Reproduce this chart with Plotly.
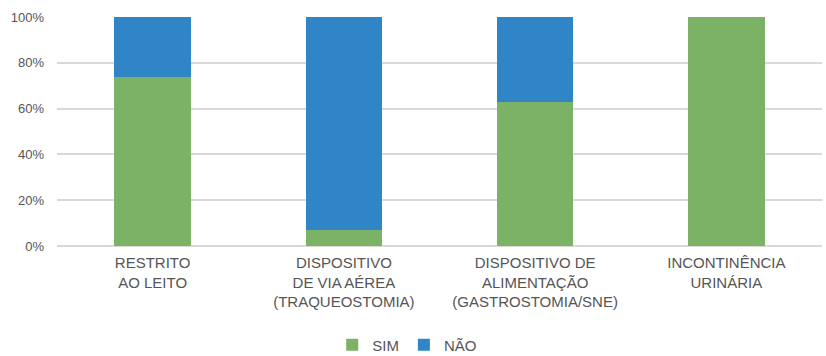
import plotly.graph_objects as go

categories = ["RESTRITO<br>AO LEITO", "DISPOSITIVO<br>DE VIA AÉREA<br>(TRAQUEOSTOMIA)",
              "DISPOSITIVO DE<br>ALIMENTAÇÃO<br>(GASTROSTOMIA/SNE)", "INCONTINÊNCIA<br>URINÁRIA"]
sim = [74, 7, 63, 100]
nao = [26, 93, 37, 0]
tick_vals = [0, 20, 40, 60, 80, 100]
tick_text = ["0%", "20%", "40%", "60%", "80%", "100%"]

fig = go.Figure()
fig.add_trace(go.Bar(x=categories, y=sim, name="SIM", marker_color="#7BB266", marker_line_width=0))
fig.add_trace(go.Bar(x=categories, y=nao, name="NÃO", marker_color="#3085C6", marker_line_width=0))

fig.update_layout(
    barmode="stack",
    bargap=0.6,
    width=826, height=356,
    margin=dict(l=57, r=4, t=17, b=110, autoexpand=False),
    paper_bgcolor="white", plot_bgcolor="white",
    font=dict(family="Liberation Sans, Arial, sans-serif", color="#555555", size=13),
    legend=dict(orientation="h", xref="container", x=0.493, xanchor="center", y=-0.36, yanchor="top",
                font=dict(size=15), itemwidth=30, traceorder="normal"),
    xaxis=dict(showgrid=False, showline=False, ticks="", tickfont=dict(size=15), tickangle=0,
               ticklabelstandoff=6, automargin=False),
    yaxis=dict(range=[0, 100], tickvals=tick_vals, ticktext=tick_text, showgrid=True,
               gridcolor="#D9D9D9", gridwidth=2, zeroline=True, zerolinecolor="#D9D9D9",
               zerolinewidth=2, ticks="", tickfont=dict(size=13), ticklabelstandoff=12,
               automargin=False),
)
fig.write_html("out.html")
